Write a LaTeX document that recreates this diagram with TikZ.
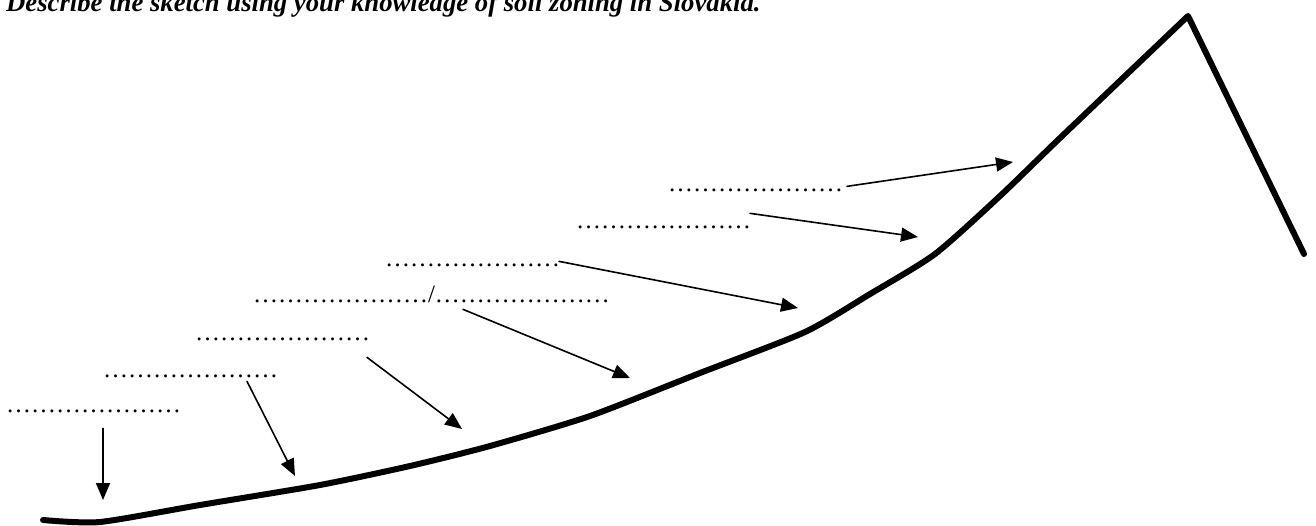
\documentclass[tikz,border=0pt]{standalone}
\usepackage{fontspec}
\setmainfont{Liberation Serif}
\usetikzlibrary{arrows.meta}

\begin{document}
\begin{tikzpicture}[x=1pt,y=-1pt,line cap=round,line join=round,
  blank/.style={inner sep=0pt,outer sep=0pt,anchor=base west,font=\fontsize{25}{28}\selectfont},
  pointer/.style={line width=1.6pt,-{Triangle[length=17pt,width=14pt]}}]
\useasboundingbox (0,0) rectangle (1316,526);
\node[inner sep=0pt,anchor=base west,font=\fontsize{26.7}{30}\selectfont\bfseries\itshape] (title) at (6,12)
  {Describe the sketch using your knowledge of soil zoning in Slovakia.};
\draw[line width=6pt] plot[smooth,tension=.4] coordinates {(43,520) (100,522) (200,505) (320,485) (410,466)
  (490,446) (590,416) (700,373) (805,332) (870,294) (935,254) (1000,196) (1060,138) (1188,16)}
  -- (1304,254);
\node[blank] (d1) at (6,412) {…………………};
\node[blank] (d2) at (103,377) {…………………};
\node[blank] (d3) at (195,340) {…………………};
\node[blank] (d4) at (253,303) {…………………/…………………};
\node[blank] (d5) at (385,267) {…………………};
\node[blank] (d6) at (576,229) {…………………};
\node[blank] (d7) at (668,192) {…………………};
\coordinate (t1) at (103,500);
\coordinate (t2) at (295,476);
\coordinate (t3) at (462,429);
\coordinate (t4) at (630,378);
\coordinate (t5) at (798,308);
\coordinate (t6) at (918,237);
\coordinate (t7) at (1013,162);
\draw[pointer] ([xshift=9.5pt,yshift=-16pt]d1.south) -- (t1);
\draw[pointer] ([xshift=56.5pt,yshift=-4pt]d2.south) -- (t2);
\draw[pointer] ([xshift=-3pt,yshift=-17pt]d3.south east) -- (t3);
\draw[pointer] ([xshift=31.5pt,yshift=-6pt]d4.south) -- (t4);
\draw[pointer] ([xshift=-1pt,yshift=6pt]d5.south east) -- (t5);
\draw[pointer] ([xshift=-1pt,yshift=16pt]d6.south east) -- (t6);
\draw[pointer] ([xshift=4pt,yshift=6pt]d7.south east) -- (t7);
\end{tikzpicture}
\end{document}
